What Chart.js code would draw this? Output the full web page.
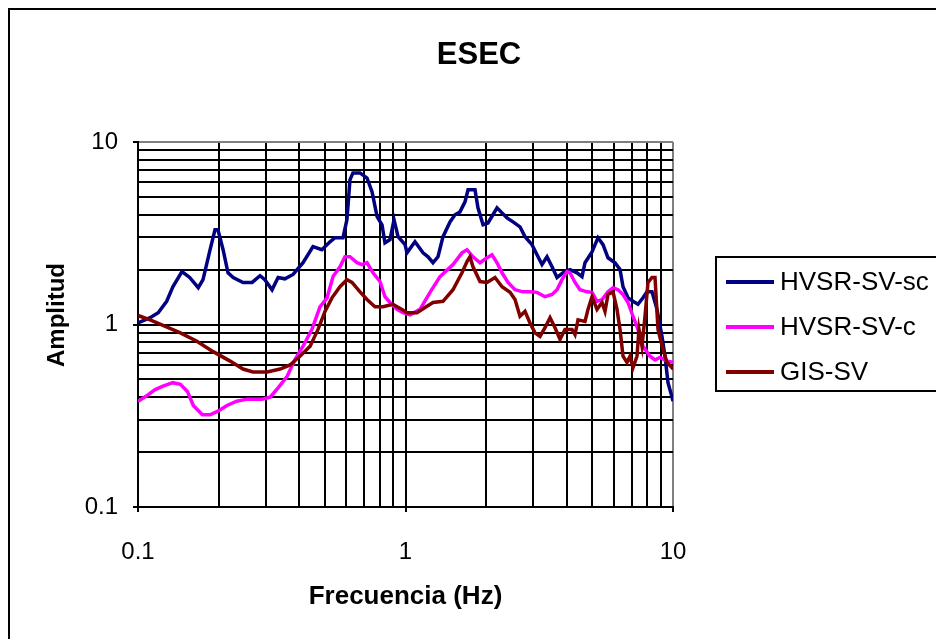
<!DOCTYPE html>
<html><head><meta charset="utf-8">
<script src="https://cdn.jsdelivr.net/npm/chart.js@4.4.1/dist/chart.umd.min.js"></script>
<style>html,body{margin:0;padding:0;background:#fff;}canvas{display:block;}</style>
</head><body>
<canvas id="c" width="936" height="639"></canvas>
<script>
const chartTitle = 'ESEC';
const xTitle = 'Frecuencia (Hz)';
const yTitle = 'Amplitud';
const seriesNames = ['HVSR-SV-sc', 'HVSR-SV-c', 'GIS-SV'];
const seriesColors = ['#000080', '#FF00FF', '#800000'];
const gridValues = [0.1,0.2,0.3,0.4,0.5,0.6,0.7,0.8,0.9,1,2,3,4,5,6,7,8,9,10];
const majorTicks = [0.1, 1, 10];
const majorLabels = ['0.1', '1', '10'];

const scFreq = [0.1,0.111,0.119,0.128,0.135,0.146,0.156,0.168,0.175,0.186,0.194,0.199,0.208,0.217,0.227,0.247,0.267,0.286,0.298,0.317,0.334,0.354,0.380,0.414,0.451,0.487,0.522,0.545,0.584,0.604,0.620,0.636,0.676,0.718,0.750,0.783,0.817,0.838,0.875,0.906,0.938,0.996,1.013,1.085,1.163,1.214,1.267,1.323,1.381,1.467,1.531,1.598,1.669,1.713,1.819,1.866,1.949,2.034,2.199,2.295,2.396,2.523,2.679,2.797,2.971,3.102,3.238,3.381,3.530,3.685,3.880,4.121,4.377,4.569,4.689,4.980,5.244,5.475,5.715,6.071,6.338,6.504,6.789,7.087,7.398,7.724,7.995,8.347,8.713,9.097,9.335,9.579,9.915,10];
const scAmp = [1.02,1.09,1.16,1.34,1.61,1.95,1.81,1.59,1.76,2.57,3.3,3.3,2.57,1.92,1.81,1.7,1.7,1.85,1.76,1.55,1.81,1.78,1.88,2.18,2.67,2.57,2.84,2.99,2.99,3.75,6.2,6.77,6.77,6.35,5.33,3.9,3.52,2.8,2.92,3.75,3.03,2.74,2.47,2.84,2.47,2.35,2.18,2.35,3.03,3.65,3.99,4.14,4.7,5.47,5.47,4.36,3.52,3.6,4.36,4.09,3.84,3.65,3.43,3.03,2.74,2.41,2.13,2.35,2.07,1.81,1.92,2.0,1.92,1.83,2.18,2.5,2.99,2.74,2.32,2.18,2.0,1.61,1.4,1.34,1.29,1.4,1.51,1.51,1.21,0.86,0.67,0.48,0.40,0.38];

const cFreq = [0.1,0.106,0.116,0.124,0.135,0.144,0.153,0.161,0.174,0.186,0.199,0.215,0.234,0.256,0.291,0.312,0.334,0.361,0.386,0.414,0.447,0.479,0.509,0.536,0.569,0.594,0.620,0.659,0.688,0.718,0.756,0.803,0.838,0.875,0.929,0.979,1.039,1.133,1.235,1.346,1.505,1.626,1.698,1.788,1.899,2.017,2.106,2.199,2.295,2.417,2.567,2.750,2.920,3.102,3.323,3.530,3.685,3.846,4.015,4.121,4.302,4.491,4.770,4.980,5.199,5.428,5.715,5.967,6.230,6.504,6.789,7.087,7.398,7.724,8.204,8.565,8.942,9.497,10];
const cAmp = [0.38,0.40,0.44,0.46,0.48,0.47,0.43,0.36,0.32,0.32,0.335,0.36,0.38,0.39,0.39,0.40,0.45,0.52,0.64,0.76,0.94,1.25,1.4,1.83,2.07,2.35,2.35,2.18,2.13,2.18,1.92,1.72,1.42,1.32,1.21,1.16,1.13,1.21,1.5,1.83,2.13,2.47,2.57,2.35,2.18,2.32,2.41,2.18,1.92,1.7,1.55,1.51,1.51,1.5,1.42,1.46,1.55,1.76,1.95,1.92,1.7,1.55,1.51,1.5,1.34,1.37,1.51,1.59,1.55,1.46,1.32,1.11,0.94,0.76,0.67,0.64,0.66,0.63,0.62];

const gisFreq = [0.1,0.111,0.124,0.144,0.166,0.191,0.221,0.247,0.269,0.304,0.340,0.370,0.403,0.440,0.471,0.500,0.531,0.569,0.604,0.631,0.676,0.718,0.769,0.824,0.898,0.970,1.013,1.104,1.183,1.267,1.381,1.505,1.626,1.698,1.742,1.788,1.899,2.017,2.161,2.295,2.459,2.567,2.679,2.797,2.920,3.049,3.183,3.323,3.470,3.622,3.781,3.947,4.193,4.302,4.415,4.689,4.811,4.980,5.199,5.428,5.570,5.715,5.967,6.176,6.338,6.504,6.730,6.907,7.087,7.335,7.463,7.658,7.859,8.064,8.347,8.565,8.790,9.176,9.497,9.915,10];
const gisAmp = [1.12,1.06,0.99,0.90,0.81,0.71,0.63,0.57,0.55,0.55,0.57,0.60,0.67,0.76,0.94,1.18,1.40,1.61,1.76,1.70,1.51,1.37,1.25,1.25,1.29,1.21,1.16,1.16,1.24,1.32,1.34,1.55,1.92,2.21,2.35,2.07,1.72,1.70,1.81,1.61,1.50,1.37,1.11,1.18,1.02,0.90,0.86,0.96,1.09,0.96,0.83,0.94,0.94,0.88,1.06,1.04,1.21,1.42,1.21,1.32,1.18,1.46,1.51,1.21,0.94,0.67,0.62,0.67,0.58,0.67,0.94,0.76,1.11,1.70,1.81,1.81,0.94,0.73,0.62,0.58,0.59];

const FONT = '"Liberation Sans", Arial, sans-serif';
const toPts = (f, a) => f.map((v, i) => ({x: v, y: a[i]}));
const isMajor = v => majorTicks.indexOf(v) >= 0;

const framePlugin = {
  id: 'frame',
  beforeDraw(chart) {
    const ctx = chart.ctx;
    ctx.save();
    ctx.fillStyle = '#fff';
    ctx.fillRect(0, 0, chart.width, chart.height);
    ctx.strokeStyle = '#000';
    ctx.lineWidth = 2;
    ctx.strokeRect(9, 9, 1000, 1000);
    ctx.restore();
  },
  afterDraw(chart) {
    const ctx = chart.ctx;
    ctx.save();
    ctx.fillStyle = '#000';
    ctx.font = 'bold 31px ' + FONT;
    ctx.textAlign = 'center';
    ctx.textBaseline = 'middle';
    ctx.fillText(chartTitle, 479, 55);
    // y axis title
    ctx.save();
    ctx.translate(57, 315);
    ctx.rotate(-Math.PI / 2);
    ctx.font = 'bold 24px ' + FONT;
    ctx.fillText(yTitle, 0, 0);
    ctx.restore();
    // legend
    ctx.strokeStyle = '#000';
    ctx.lineWidth = 2;
    ctx.strokeRect(716, 257, 300, 134);
    ctx.font = '26px ' + FONT;
    ctx.textAlign = 'left';
    chart.data.datasets.forEach((ds, i) => {
      const y = 282 + i * 45;
      ctx.strokeStyle = ds.borderColor;
      ctx.lineWidth = 4;
      ctx.beginPath();
      ctx.moveTo(726, y);
      ctx.lineTo(774, y);
      ctx.stroke();
      ctx.fillStyle = '#000';
      ctx.fillText(ds.label, 780, y + 1);
    });
    ctx.restore();
  }
};

const gridColor = ctx => (ctx.tick && ctx.tick.value === 10) ? '#808080' : '#000000';
const tickColor = ctx => (ctx.tick && isMajor(ctx.tick.value)) ? '#000000' : 'rgba(0,0,0,0)';
const setTicks = scale => { scale.ticks = gridValues.map(v => ({value: v})); };
const labelCb = v => { const i = majorTicks.indexOf(v); return i >= 0 ? majorLabels[i] : ''; };

new Chart(document.getElementById('c'), {
  type: 'line',
  data: {
    datasets: [
      {label: seriesNames[0], data: toPts(scFreq, scAmp), borderColor: seriesColors[0], order: 2},
      {label: seriesNames[1], data: toPts(cFreq, cAmp), borderColor: seriesColors[1], order: 1},
      {label: seriesNames[2], data: toPts(gisFreq, gisAmp), borderColor: seriesColors[2], order: 0}
    ].map(d => Object.assign(d, {borderWidth: 3.5, pointRadius: 0, tension: 0, fill: false}))
  },
  options: {
    responsive: false,
    animation: false,
    events: [],
    layout: {padding: {top: 142, right: 263, bottom: 0, left: 0}},
    plugins: {legend: {display: false}, tooltip: {enabled: false}, title: {display: false}},
    scales: {
      x: {
        type: 'logarithmic', min: 0.1, max: 10,
        afterBuildTicks: setTicks,
        afterFit: s => { s.height = 132; },
        ticks: {autoSkip: false, maxRotation: 0, callback: labelCb, color: '#000', padding: 26, font: {family: FONT, size: 24}},
        grid: {color: gridColor, lineWidth: 2, tickColor: tickColor, tickLength: 5, tickWidth: 2},
        border: {color: '#000', width: 2},
        title: {display: true, text: xTitle, color: '#000', font: {family: FONT, size: 26, weight: 'bold'}, padding: {top: 0, bottom: 27}}
      },
      y: {
        type: 'logarithmic', min: 0.1, max: 10,
        afterBuildTicks: setTicks,
        afterFit: s => { s.width = 138; },
        ticks: {autoSkip: false, callback: labelCb, color: '#000', padding: 15, font: {family: FONT, size: 24}},
        grid: {color: gridColor, lineWidth: 2, tickColor: tickColor, tickLength: 5, tickWidth: 2},
        border: {color: '#000', width: 2},
        title: {display: false}
      }
    }
  },
  plugins: [framePlugin]
});
</script>
</body></html>
